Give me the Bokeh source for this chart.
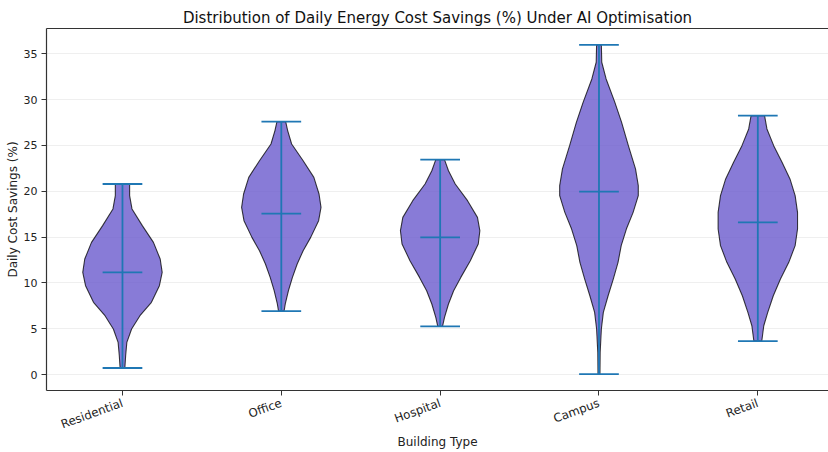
import math
from bokeh.plotting import figure
from bokeh.models import Range1d, FixedTicker, LinearAxis, Title
from bokeh.embed import file_html
from bokeh.resources import INLINE

# ---------------- data ----------------
categories = ["Residential", "Office", "Hospital", "Campus", "Retail"]

# min / max / mean of daily cost savings (%)
mins = [0.73, 6.94, 5.27, 0.07, 3.67]
maxes = [20.79, 27.59, 23.44, 35.95, 28.24]
means = [11.16, 17.56, 14.97, 19.95, 16.61]

# violin profiles: value levels and relative density (max = 1)
residential_vals = [0.73, 2.07, 3.53, 4.98, 6.43, 7.89, 9.70, 11.16, 12.61, 14.43, 16.25, 18.07, 19.52, 20.79]
residential_dens = [0.06, 0.08, 0.11, 0.23, 0.44, 0.73, 0.93, 1.00, 0.95, 0.78, 0.50, 0.24, 0.18, 0.18]

office_vals = [6.94, 7.71, 9.16, 10.61, 12.07, 13.52, 14.97, 16.79, 18.25, 19.70, 21.51, 23.33, 25.15, 26.61, 27.59]
office_dens = [0.07, 0.10, 0.18, 0.28, 0.40, 0.55, 0.74, 0.94, 1.00, 0.95, 0.82, 0.55, 0.26, 0.16, 0.11]

hospital_vals = [5.27, 6.25, 7.71, 9.16, 10.61, 12.43, 14.25, 15.70, 17.15, 18.97, 20.79, 22.24, 23.44]
hospital_dens = [0.06, 0.11, 0.21, 0.34, 0.52, 0.76, 0.96, 1.00, 0.94, 0.69, 0.38, 0.21, 0.11]

campus_vals = [0.07, 2.43, 4.98, 6.80, 8.61, 10.43, 12.25, 14.07, 15.88, 17.70, 19.52, 20.61, 22.43, 24.97, 27.51, 29.69, 32.24, 34.06, 35.95]
campus_dens = [0.025, 0.03, 0.06, 0.11, 0.23, 0.36, 0.48, 0.56, 0.69, 0.86, 0.99, 0.99, 0.92, 0.74, 0.57, 0.40, 0.18, 0.07, 0.06]

retail_vals = [3.67, 5.34, 6.80, 8.61, 10.43, 12.25, 14.07, 15.88, 17.70, 19.52, 21.34, 23.15, 24.97, 26.79, 28.24]
retail_dens = [0.10, 0.15, 0.25, 0.39, 0.57, 0.78, 0.94, 1.00, 1.00, 0.94, 0.81, 0.61, 0.40, 0.23, 0.17]

profile_vals = [residential_vals, office_vals, hospital_vals, campus_vals, retail_vals]
profile_dens = [residential_dens, office_dens, hospital_dens, campus_dens, retail_dens]

y_ticks = [0, 5, 10, 15, 20, 25, 30, 35]

# ---------------- figure ----------------
positions = list(range(1, len(categories) + 1))
violin_width = 0.5
half = violin_width / 2
cap = violin_width / 4

p = figure(width=828, height=452, output_backend="svg", toolbar_location=None,
           x_range=Range1d(0.5217, 5.445), y_range=Range1d(-1.72, 37.74),
           min_border_left=46, min_border_right=0, min_border_top=28, min_border_bottom=62)
p.background_fill_color = "white"
p.border_fill_color = "white"
p.outline_line_color = None

p.title = Title(text="Distribution of Daily Energy Cost Savings (%) Under AI Optimisation",
                align="center", text_font="DejaVu Sans", text_font_size="15px",
                text_font_style="normal", text_color="#111111", standoff=3)

# top spine
top_axis = LinearAxis(ticker=FixedTicker(ticks=[]), major_tick_out=0, major_tick_in=0,
                      minor_tick_out=0, minor_tick_in=0,
                      major_label_text_font_size="0px", major_label_standoff=0,
                      axis_line_color="#333333", axis_line_width=1.2)
p.add_layout(top_axis, "above")

# violins
xs, ys = [], []
for pos, vals, dens in zip(positions, profile_vals, profile_dens):
    right_x = [pos + d * half for d in dens]
    left_x = [pos - d * half for d in reversed(dens)]
    xs.append(right_x + left_x)
    ys.append(list(vals) + list(reversed(vals)))
p.patches(xs, ys, fill_color="#6a5acd", fill_alpha=0.8, line_color="black", line_alpha=0.75, line_width=1.1)

line_col = "#1f77b4"
lw = 1.8
# vertical bars
p.segment(x0=positions, y0=mins, x1=positions, y1=maxes, line_color=line_col, line_width=lw)
# caps and means
for arr in (mins, maxes, means):
    p.segment(x0=[x - cap for x in positions], y0=arr, x1=[x + cap for x in positions], y1=arr,
              line_color=line_col, line_width=lw)

# axes
xax = p.below[0]
yax = p.left[0]
xax.ticker = FixedTicker(ticks=positions)
xax.major_label_overrides = {pos: name for pos, name in zip(positions, categories)}
xax.major_label_orientation = math.radians(20)
yax.ticker = FixedTicker(ticks=y_ticks)
xax.axis_label = "Building Type"
yax.axis_label = "Daily Cost Savings (%)"
for ax in (xax, yax):
    ax.axis_label_text_font = "DejaVu Sans"
    ax.axis_label_text_font_size = "12px"
    ax.axis_label_text_font_style = "normal"
    ax.axis_label_text_color = "#222222"
    ax.major_label_text_font = "DejaVu Sans"
    ax.major_label_text_color = "#222222"
    ax.axis_line_color = "#333333"
    ax.axis_line_width = 1.2
    ax.major_tick_line_color = "#333333"
    ax.major_tick_out = 5
    ax.major_tick_in = 0
    ax.minor_tick_out = 0
    ax.minor_tick_in = 0
xax.major_label_text_font_size = "11.8px"
yax.major_label_text_font_size = "11px"
yax.major_label_standoff = 4
yax.axis_label_standoff = 1
xax.major_label_standoff = 7
xax.axis_label_standoff = -6

p.xgrid.grid_line_color = None
p.ygrid.ticker = FixedTicker(ticks=y_ticks)
p.ygrid.grid_line_color = "#e8e8e8"
p.ygrid.grid_line_alpha = 0.7

open("out.html", "w").write(file_html(p, INLINE))
